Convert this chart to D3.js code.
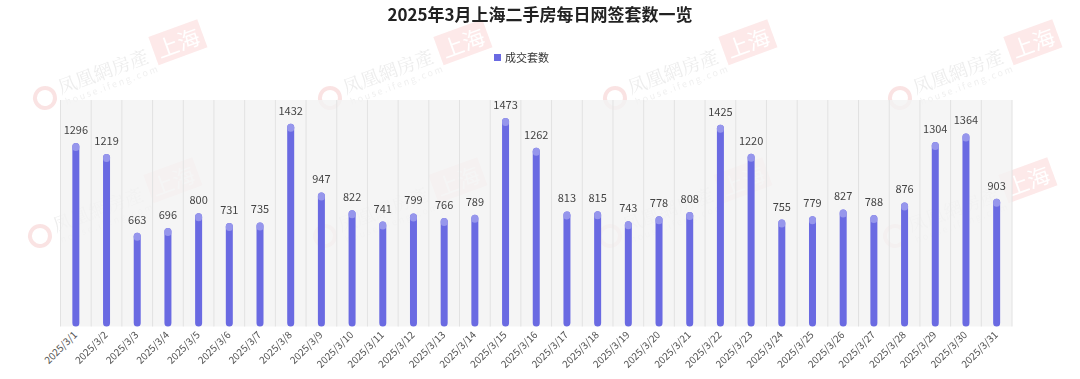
<!DOCTYPE html>
<html>
<head>
<meta charset="utf-8">
<script src="https://cdn.jsdelivr.net/npm/d3@7"></script>
<style>
  body { margin: 0; background: #fff; }
  svg { display: block; font-family: "PingFang SC", "Noto Sans CJK SC", sans-serif; }
</style>
</head>
<body>
<script>
// data
var dates = [];
for (var d = 1; d <= 31; d++) dates.push('2025/3/' + d);
var counts = [1296, 1219, 663, 696, 800, 731, 735, 1432, 947, 822, 741, 799, 766, 789, 1473,
              1262, 813, 815, 743, 778, 808, 1425, 1220, 755, 779, 827, 788, 876, 1304, 1364, 903];
var title = '2025年3月上海二手房每日网签套数一览';
var seriesName = '成交套数';

var width = 1080, height = 379;
var plotLeft = 60.5, plotRight = 1012, plotTop = 100, plotBottom = 326.5;
var barW = 7;
var barColor = '#6a6ae2', capColor = '#9696ec';

var svg = d3.select('body').append('svg').attr('width', width).attr('height', height);

// watermark (faint, behind everything)
var wm = svg.append('g').attr('opacity', 0.35);
var wmCols = [0, 1, 2, 3], wmRows = [0, 1];
wmRows.forEach(r => {
    wmCols.forEach(c => {
        var x = 45 + c * 285 - r * 5, y = 98 + r * 138;
        var g = wm.append('g').attr('transform', 'translate(' + x + ',' + y + ') rotate(-20)');
        g.append('circle').attr('cx', 0).attr('cy', 0).attr('r', 10).attr('fill', 'none')
            .attr('stroke', '#f0b0b0').attr('stroke-width', 4);
        g.append('text').attr('x', 16).attr('y', 2).attr('font-size', 19).attr('fill', '#ccc')
            .attr('font-family', 'Noto Serif CJK SC, serif').text('凤凰網房產');
        g.append('text').attr('x', 18).attr('y', 14).attr('font-size', 9).attr('fill', '#d4d4d4')
            .attr('letter-spacing', 2).text('house.ifeng.com');
        g.append('rect').attr('x', 118).attr('y', -22).attr('width', 52).attr('height', 30).attr('fill', '#f8c0c0');
        g.append('text').attr('x', 144).attr('y', 2).attr('text-anchor', 'middle').attr('font-size', 22)
            .attr('fill', '#fff').text('上海');
    });
});

// scales
var x = d3.scaleBand().domain(dates).range([plotLeft, plotRight]);
var y = d3.scaleLinear().domain([0, 1600]).range([plotBottom, plotTop]);

// plot background and vertical separators
svg.append('rect').attr('x', plotLeft).attr('y', plotTop).attr('width', plotRight - plotLeft)
    .attr('height', plotBottom - plotTop).attr('fill', '#f3f3f3').attr('opacity', 0.8);
svg.append('g').selectAll('line').data(dates.concat(['end'])).enter().append('line')
    .attr('x1', (d, i) => i < dates.length ? x(d) : plotRight)
    .attr('x2', (d, i) => i < dates.length ? x(d) : plotRight)
    .attr('y1', plotTop).attr('y2', plotBottom)
    .attr('stroke', '#e2e2e2').attr('stroke-width', 1);

// title
svg.append('text').attr('x', width / 2).attr('y', 21).attr('text-anchor', 'middle')
    .attr('font-size', 17).attr('font-weight', 'bold').attr('fill', '#222').text(title);

// legend
svg.append('rect').attr('x', 494).attr('y', 54).attr('width', 7).attr('height', 7).attr('fill', barColor);
svg.append('text').attr('x', 505).attr('y', 62).attr('font-size', 11).attr('fill', '#333').text(seriesName);

// bars
var bars = svg.append('g').selectAll('g').data(counts).enter().append('g');
bars.append('rect')
    .attr('x', (d, i) => x(dates[i]) + x.bandwidth() / 2 - barW / 2)
    .attr('y', d => y(d))
    .attr('width', barW)
    .attr('height', d => y(0) - y(d))
    .attr('rx', barW / 2)
    .attr('fill', barColor);
bars.append('rect') // lighter cap on top
    .attr('x', (d, i) => x(dates[i]) + x.bandwidth() / 2 - barW / 2)
    .attr('y', d => y(d))
    .attr('width', barW)
    .attr('height', 8)
    .attr('rx', barW / 2)
    .attr('fill', capColor);

// value labels
bars.append('text')
    .attr('x', (d, i) => x(dates[i]) + x.bandwidth() / 2)
    .attr('y', d => y(d) - 9)
    .attr('text-anchor', 'middle')
    .attr('font-size', 11).attr('fill', '#444')
    .text(d => d);

// x labels
svg.append('g').selectAll('text').data(dates).enter().append('text')
    .attr('transform', d => 'translate(' + (x(d) + x.bandwidth() / 2 + 2) + ',' + (plotBottom + 9) + ') rotate(-45)')
    .attr('text-anchor', 'end')
    .attr('font-size', 10).attr('fill', '#555')
    .text(d => d);
</script>
</body>
</html>
